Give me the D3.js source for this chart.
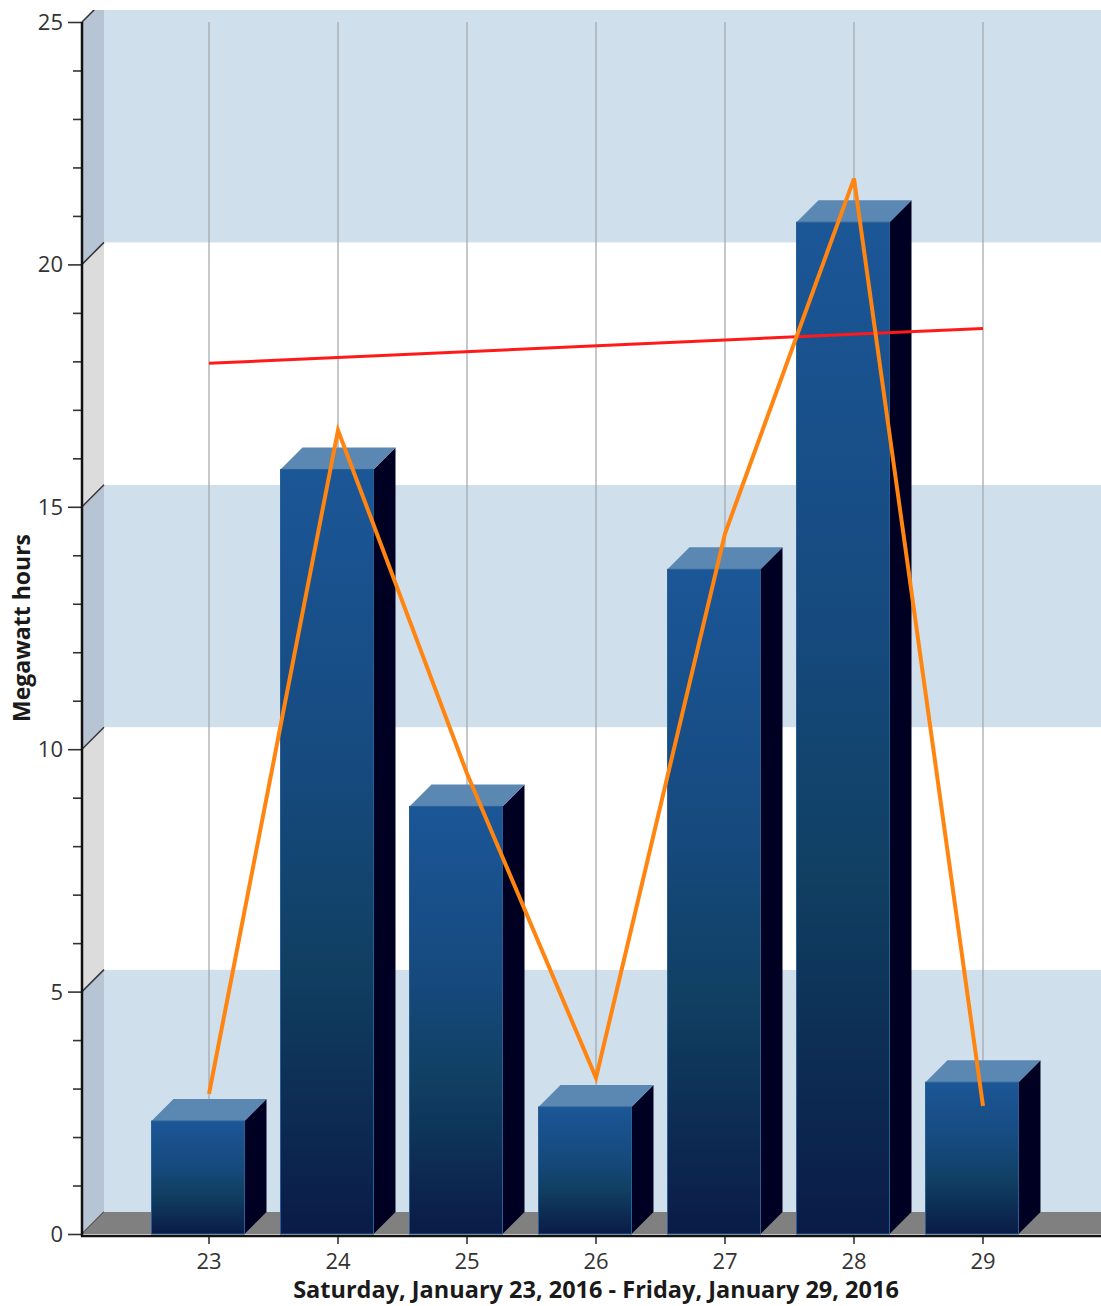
<!DOCTYPE html>
<html><head><meta charset="utf-8">
<script src="https://cdn.jsdelivr.net/npm/d3@7"></script>
<style>body{margin:0;background:#fff}svg{display:block}text{font-family:"Open Sans","Noto Sans",sans-serif}</style>
</head><body><svg id="c" width="1101" height="1306"></svg>
<script>
const days = ["23","24","25","26","27","28","29"];
const barValues = [2.33, 15.77, 8.82, 2.62, 13.71, 20.87, 3.13];
const lineValues = [2.89, 16.58, 9.5, 3.22, 14.45, 21.77, 2.64];
const trendValues = [17.96, 18.68];
const yMajorTicks = [0, 5, 10, 15, 20, 25];
const yMinorTicks = d3.range(0, 26, 1).filter(v => v % 5 !== 0);
const xTitle = "Saturday, January 23, 2016 - Friday, January 29, 2016";
const yTitle = "Megawatt hours";

const svg = d3.select("#c");
const W = 1101;
const x0 = 82, yBase = 1234, yTop = 22, dx = 22, dy = 22;
const y = d3.scaleLinear().domain([0, 25]).range([yBase, yTop]);
const x = d3.scaleBand().domain(days).range([144.5, 1047.5]);
const cx = d => x(d) + x.bandwidth() / 2;
const barW = 93;

const defs = svg.append("defs");
defs.append("clipPath").attr("id", "clip").append("rect").attr("x", 0).attr("y", 10).attr("width", W).attr("height", 1300);
const g1 = defs.append("linearGradient").attr("id", "front").attr("x1", 0).attr("y1", 0).attr("x2", 0).attr("y2", 1);
[["0%", "#1b5697"], ["40%", "#164a7e"], ["65%", "#103f62"], ["100%", "#0a1b47"]].forEach(s => g1.append("stop").attr("offset", s[0]).attr("stop-color", s[1]));

const plot = svg.append("g").attr("clip-path", "url(#clip)");

// back wall bands
const bands = d3.range(0, 5);
plot.selectAll("rect.band").data(bands).join("rect")
  .attr("x", x0 + dx).attr("width", W - x0 - dx)
  .attr("y", i => y((i + 1) * 5) - dy).attr("height", i => y(i * 5) - y((i + 1) * 5))
  .attr("fill", i => i % 2 === 0 ? "#cfe0ec" : "#ffffff");
// side wall
plot.selectAll("path.side").data(bands).join("path")
  .attr("d", i => `M${x0},${y(i * 5)}L${x0 + dx},${y(i * 5) - dy}L${x0 + dx},${y((i + 1) * 5) - dy}L${x0},${y((i + 1) * 5)}Z`)
  .attr("fill", i => i % 2 === 0 ? "#b7c4d4" : "#dcdcdc");
plot.selectAll("line.sedge").data(yMajorTicks).join("line")
  .attr("x1", x0).attr("x2", x0 + dx).attr("y1", d => y(d)).attr("y2", d => y(d) - dy)
  .attr("stroke", "#333").attr("stroke-width", 1.5);
// floor
plot.append("path")
  .attr("d", `M${x0},${y(0)}L${x0 + dx},${y(0) - dy}L${W},${y(0) - dy}L${W},${y(0)}Z`)
  .attr("fill", "#808080");

// gridlines
plot.selectAll("line.grid").data(days).join("line")
  .attr("x1", cx).attr("x2", cx).attr("y1", y(25)).attr("y2", y(0) - dy)
  .attr("stroke", "#a0a4a8").attr("stroke-width", 1.2);

// bars
const bars = plot.selectAll("g.bar").data(days.map((d, i) => ({d, v: barValues[i]}))).join("g");
bars.append("path").attr("d", b => {
  const l = cx(b.d) - (barW + dx) / 2, r = l + barW, t = y(b.v);
  return `M${r},${y(0)}L${r + dx},${y(0) - dy}L${r + dx},${t - dy}L${r},${t}Z`;
}).attr("fill", "#000022");
bars.append("path").attr("d", b => {
  const l = cx(b.d) - (barW + dx) / 2, r = l + barW, t = y(b.v);
  return `M${l},${t}L${l + dx},${t - dy}L${r + dx},${t - dy}L${r},${t}Z`;
}).attr("fill", "#5b87b3");
bars.append("rect")
  .attr("x", b => cx(b.d) - (barW + dx) / 2).attr("width", barW)
  .attr("y", b => y(b.v)).attr("height", b => y(0) - y(b.v))
  .attr("fill", "url(#front)").attr("stroke", "#2a5f94").attr("stroke-width", 1);

// trend line
plot.append("line")
  .attr("x1", cx(days[0])).attr("y1", y(trendValues[0]))
  .attr("x2", cx(days[days.length - 1])).attr("y2", y(trendValues[1]))
  .attr("stroke", "#ff1a1a").attr("stroke-width", 3);

// orange line
plot.append("path")
  .attr("d", d3.line().x((v, i) => cx(days[i])).y(v => y(v))(lineValues))
  .attr("fill", "none").attr("stroke", "#ff8510").attr("stroke-width", 4).attr("stroke-linejoin", "miter");

// axes
const ax = svg.append("g").attr("transform", `translate(${x0},0)`);
ax.call(d3.axisLeft(y).tickValues(yMinorTicks).tickSize(9).tickFormat(""));
ax.select(".domain").remove();
const ax2 = svg.append("g").attr("transform", `translate(${x0},0)`);
ax2.call(d3.axisLeft(y).tickValues(yMajorTicks).tickSize(14).tickPadding(5).tickFormat(d3.format("d")));
ax2.select(".domain").remove();
svg.selectAll(".tick line").attr("stroke", "#333").attr("stroke-width", 1.6);
ax2.selectAll("text").attr("font-size", 22).attr("fill", "#333").attr("dy", "0.34em");
svg.append("line").attr("x1", x0).attr("x2", x0).attr("y1", y(25)).attr("y2", y(0) + 2.5)
  .attr("stroke", "#111").attr("stroke-width", 2.5);

const bx = svg.append("g").attr("transform", `translate(0,${y(0) + 2})`);
bx.call(d3.axisBottom(x).tickSize(8).tickPadding(6));
bx.select(".domain").remove();
bx.selectAll(".tick line").attr("stroke", "#333").attr("stroke-width", 1.6);
bx.selectAll("text").attr("font-size", 22).attr("fill", "#333").attr("y", 33).attr("dy", 0);
svg.append("line").attr("x1", x0 - 1).attr("x2", W).attr("y1", y(0) + 2).attr("y2", y(0) + 2)
  .attr("stroke", "#111").attr("stroke-width", 2.5);

svg.append("text").attr("x", cx("26")).attr("y", 1298).attr("text-anchor", "middle")
  .attr("font-size", 23.5).attr("font-weight", "bold").attr("fill", "#1a1a1a").text(xTitle);
svg.append("text").attr("transform", "translate(30,628) rotate(-90)").attr("text-anchor", "middle")
  .attr("font-size", 23).attr("font-weight", "bold").attr("fill", "#1a1a1a").text(yTitle);
</script></body></html>
